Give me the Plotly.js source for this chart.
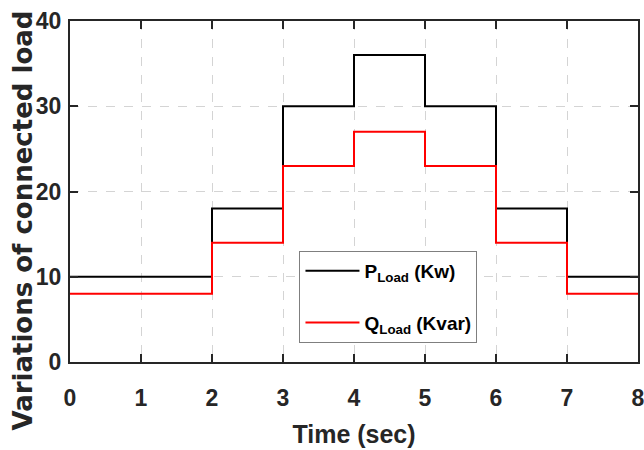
<!DOCTYPE html>
<html>
<head>
<meta charset="utf-8">
<script src="https://cdn.plot.ly/plotly-3.0.1.min.js"></script>
<style>html,body{margin:0;padding:0;background:#fff;}#chart{width:644px;height:450px;}</style>
</head>
<body>
<div id="chart"></div>
<script>
// Step change times (sec) and load levels held from each time until the next
const times = [0, 2, 3, 4, 5, 6, 7, 8];
const pLoad = [10, 18, 30, 36, 30, 18, 10, 10];
const qLoad = [8, 14, 23, 27, 23, 14, 8, 8];
const xTicks = [0, 1, 2, 3, 4, 5, 6, 7, 8];
const yTicks = [0, 10, 20, 30, 40];
const seriesNames = ['P<sub>Load</sub> (Kw)', 'Q<sub>Load</sub> (Kvar)'];

const sans = '"Liberation Sans", Arial, sans-serif';

const traces = [
  {x: times, y: pLoad, name: seriesNames[0], legendgroup: 'p', mode: 'lines', line: {shape: 'hv', color: '#000000', width: 2}},
  {x: times, y: qLoad, name: seriesNames[1], legendgroup: 'q', mode: 'lines', line: {shape: 'hv', color: '#ff0000', width: 2}}
];

const axisCommon = {
  showline: true, linecolor: '#262626', linewidth: 2, mirror: 'ticks',
  ticks: 'inside', ticklen: 8, tickwidth: 2, tickcolor: '#262626',
  showgrid: true, gridcolor: '#d4d4d4', gridwidth: 1, griddash: 'dash',
  zeroline: false, ticklabeloverflow: 'allow',
  tickfont: {family: sans, size: 23, color: '#262626', weight: 'bold'}
};

const layout = {
  width: 644, height: 450,
  margin: {l: 69.5, r: 6, t: 21, b: 88},
  paper_bgcolor: '#ffffff', plot_bgcolor: '#ffffff',
  showlegend: true,
  legend: {
    x: 0.404, y: 0.3255, xanchor: 'left', yanchor: 'top',
    bgcolor: '#ffffff', bordercolor: '#7f7f7f', borderwidth: 1,
    font: {family: sans, size: 19, color: '#000000', weight: 'bold'},
    traceorder: 'grouped', tracegroupgap: 24, itemwidth: 54
  },
  xaxis: Object.assign({}, axisCommon, {
    range: [0, 8], tickvals: xTicks, ticktext: xTicks.map(String),
    ticklabelstandoff: 14,
    title: {text: 'Time (sec)', font: {family: sans, size: 25, color: '#262626', weight: 'bold'}, standoff: 16}
  }),
  yaxis: Object.assign({}, axisCommon, {
    range: [0, 40], tickvals: yTicks, ticktext: yTicks.map(String),
    ticklabelstandoff: 2,
    title: {text: ''}
  }),
  annotations: [{
    text: 'Variations of connected load', textangle: -90,
    xref: 'paper', yref: 'paper', x: -0.082, y: 0.416, xanchor: 'center', yanchor: 'middle',
    showarrow: false,
    font: {family: '"DejaVu Sans", sans-serif', size: 26, color: '#262626', weight: 'bold'}
  }]
};

Plotly.newPlot('chart', traces, layout, {displayModeBar: false, staticPlot: true});
</script>
</body>
</html>
